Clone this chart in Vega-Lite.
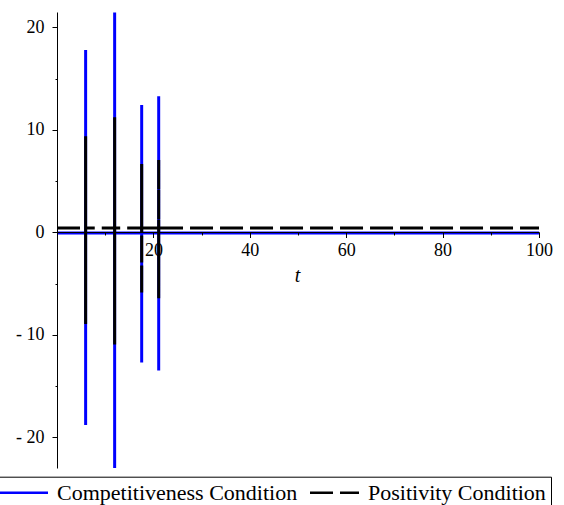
{
  "$schema": "https://vega.github.io/schema/vega-lite/v6.json",
  "autosize": {"type": "none"},
  "padding": {"left": 57, "top": 12, "right": 25, "bottom": 37},
  "width": 482,
  "height": 456,
  "background": "white",
  "config": {"view": {"stroke": null}, "font": "Liberation Serif"},
  "data": {"values": [
    {"series": "Competitiveness Condition", "i": 0, "t": 0, "y": -0.07},
    {"series": "Competitiveness Condition", "i": 1, "t": 5.94, "y": -0.07},
    {"series": "Competitiveness Condition", "i": 2, "t": 5.94, "y": 17.8},
    {"series": "Competitiveness Condition", "i": 3, "t": 5.94, "y": -18.8},
    {"series": "Competitiveness Condition", "i": 4, "t": 5.94, "y": -0.07},
    {"series": "Competitiveness Condition", "i": 5, "t": 11.96, "y": -0.07},
    {"series": "Competitiveness Condition", "i": 6, "t": 11.96, "y": 21.46},
    {"series": "Competitiveness Condition", "i": 7, "t": 11.96, "y": -23.0},
    {"series": "Competitiveness Condition", "i": 8, "t": 11.96, "y": -0.07},
    {"series": "Competitiveness Condition", "i": 9, "t": 17.57, "y": -0.07},
    {"series": "Competitiveness Condition", "i": 10, "t": 17.57, "y": 12.43},
    {"series": "Competitiveness Condition", "i": 11, "t": 17.57, "y": -12.71},
    {"series": "Competitiveness Condition", "i": 12, "t": 17.57, "y": -0.07},
    {"series": "Competitiveness Condition", "i": 13, "t": 21.1, "y": -0.07},
    {"series": "Competitiveness Condition", "i": 14, "t": 21.1, "y": 13.27},
    {"series": "Competitiveness Condition", "i": 15, "t": 21.1, "y": -13.49},
    {"series": "Competitiveness Condition", "i": 16, "t": 21.1, "y": -0.07},
    {"series": "Competitiveness Condition", "i": 17, "t": 100, "y": -0.07},
    {"series": "Positivity Condition", "i": 0, "t": 0, "y": 0.42},
    {"series": "Positivity Condition", "i": 1, "t": 5.94, "y": 0.42},
    {"series": "Positivity Condition", "i": 2, "t": 5.94, "y": 9.37},
    {"series": "Positivity Condition", "i": 3, "t": 5.94, "y": -8.94},
    {"series": "Positivity Condition", "i": 4, "t": 5.94, "y": 0.42},
    {"series": "Positivity Condition", "i": 5, "t": 11.96, "y": 0.42},
    {"series": "Positivity Condition", "i": 6, "t": 11.96, "y": 11.22},
    {"series": "Positivity Condition", "i": 7, "t": 11.96, "y": -10.96},
    {"series": "Positivity Condition", "i": 8, "t": 11.96, "y": 0.42},
    {"series": "Positivity Condition", "i": 9, "t": 17.57, "y": 0.42},
    {"series": "Positivity Condition", "i": 10, "t": 17.57, "y": 6.67},
    {"series": "Positivity Condition", "i": 11, "t": 17.57, "y": -6.01},
    {"series": "Positivity Condition", "i": 12, "t": 17.57, "y": 0.42},
    {"series": "Positivity Condition", "i": 13, "t": 21.1, "y": 0.42},
    {"series": "Positivity Condition", "i": 14, "t": 21.1, "y": 7.09},
    {"series": "Positivity Condition", "i": 15, "t": 21.1, "y": -6.44},
    {"series": "Positivity Condition", "i": 16, "t": 21.1, "y": 0.42},
    {"series": "Positivity Condition", "i": 17, "t": 100, "y": 0.42}
  ]},
  "mark": {"type": "line", "strokeWidth": 3, "clip": false},
  "encoding": {
    "x": {
      "field": "t", "type": "quantitative",
      "scale": {"domain": [0, 100], "nice": false, "zero": false},
      "axis": {
        "title": "t", "titleFont": "Liberation Serif", "titleFontStyle": "italic", "titleFontWeight": "normal",
        "titleFontSize": 20, "titleColor": "black", "titleX": 240, "titleY": 49, "titleBaseline": "alphabetic",
        "offset": -236, "zindex": 1,
        "values": [10, 20, 30, 40, 50, 60, 70, 80, 90, 100],
        "labelExpr": "datum.value % 20 == 0 ? datum.value : ''",
        "labelFont": "Liberation Serif", "labelFontSize": 18, "labelColor": "black", "labelPadding": 4,
        "tickSize": {"condition": {"test": "datum.value % 20 == 0", "value": 5.5}, "value": 3},
        "tickColor": "black", "domainColor": "black", "grid": false, "labelFlush": false, "labelOverlap": false
      }
    },
    "y": {
      "field": "y", "type": "quantitative",
      "scale": {"domain": [-23.0, 21.5], "nice": false, "zero": false},
      "axis": {
        "title": null, "zindex": 1,
        "values": [-20, -15, -10, -5, 0, 5, 10, 15, 20],
        "labelExpr": "datum.value % 10 == 0 ? (datum.value < 0 ? '- ' + abs(datum.value) : datum.value) : ''",
        "labelFont": "Liberation Serif", "labelFontSize": 18, "labelColor": "black", "labelPadding": 8,
        "tickSize": {"condition": {"test": "datum.value % 10 == 0", "value": 5}, "value": 2},
        "tickColor": "black", "domainColor": "black", "grid": false, "labelFlush": false, "labelOverlap": false
      }
    },
    "color": {
      "field": "series", "type": "nominal",
      "scale": {"domain": ["Competitiveness Condition", "Positivity Condition"], "range": ["#0000ff", "#000000"]},
      "legend": {
        "title": null, "orient": "none", "legendX": -62, "legendY": 464.7, "direction": "horizontal",
        "strokeColor": "black", "fillColor": "white", "padding": 5,
        "symbolType": "M-2.4,0H7.4", "symbolSize": 100, "symbolStrokeWidth": 2.5,
        "labelFont": "Liberation Serif", "labelFontSize": 22, "labelColor": "black", "labelOffset": 35,
        "columnPadding": 7, "labelLimit": 400
      }
    },
    "strokeDash": {
      "field": "series", "type": "nominal",
      "scale": {"domain": ["Competitiveness Condition", "Positivity Condition"], "range": [[1, 0], [23, 7]]},
      "legend": null
    },
    "order": {"field": "i", "type": "quantitative"}
  }
}
